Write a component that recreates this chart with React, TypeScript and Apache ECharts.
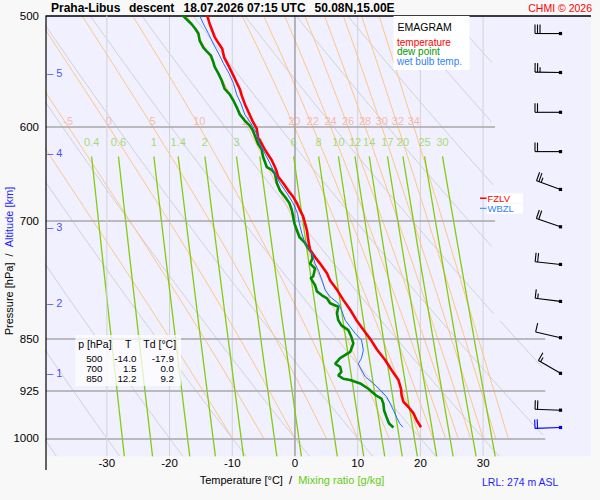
import React, { useEffect, useRef } from "react";
import * as echarts from "echarts";

// ---------- axes ----------
const P_TOP = 500;
const P_BOTTOM = 1030;
const T_LEFT = -39.7;
const T_RIGHT = 47.2;
const DIAG_T_UPPER = 31.9; // right end of the diagram above DIAG_P_STEP
const DIAG_T_LOWER = 39.9; // right end of the diagram below DIAG_P_STEP
const DIAG_P_STEP = 825;
const tempTicks = [-30, -20, -10, 0, 10, 20, 30];
const isotherms = [-30, -20, -10, 0, 10, 20, 30];
const pressureLevelsUpper = [600, 700];
const pressureLevelsLower = [850, 925, 1000];

// ---------- diagram isopleths ----------
const dryThetas = [-40, -30, -20, -10, 0, 10, 20, 30, 40, 50, 60, 70, 80, 90, 100];
const wetThetas = [-10, -5, 0, 5, 10, 15, 20, 22, 24, 26, 28, 30, 32, 34];
const wetLabels = [-5, 0, 5, 10, 15, 20, 22, 24, 26, 28, 30, 32, 34];
const mixRatios = [0.4, 0.6, 1, 1.4, 2, 3, 4, 6, 8, 10, 12, 14, 17, 20, 25, 30];
const MIX_P_START = 630;
const altitudeKm = [1, 2, 3, 4, 5];
const altitudeP = [899, 801, 707, 626, 549];

// ---------- sounding ----------
const tempP = [500, 507, 518, 524, 528, 535.5, 544, 552, 558, 564, 570, 578, 586, 594, 602, 610.5, 617, 623, 634, 641, 646, 651, 658, 666, 673, 680, 688, 695, 703, 711, 722, 734, 743, 751, 763, 772, 784, 797, 810, 824, 837, 851, 865, 880, 894, 909, 922, 932, 942, 950, 960, 971, 982];
const tempT = [-14.0, -13.6, -12.8, -12.1, -11.6, -11.3, -10.5, -9.8, -9.3, -8.8, -8.5, -8.0, -7.4, -6.8, -6.1, -5.9, -5.3, -4.8, -3.7, -3.2, -2.9, -2.7, -1.9, -1.1, -0.3, 0.3, 0.8, 1.3, 1.6, 1.9, 2.1, 2.4, 3.2, 4.0, 5.1, 5.6, 6.7, 7.7, 8.8, 9.8, 10.9, 12.1, 13.1, 14.4, 15.4, 16.5, 16.9, 17.0, 17.3, 18.1, 18.9, 19.4, 20.1];

const dewP = [500, 507, 511, 515, 521, 527, 530, 534, 538.5, 544, 550, 556, 564, 569, 575, 581, 588, 594, 599, 604, 610.5, 617, 623, 630, 641, 644, 648, 658, 666, 673, 680, 688, 695, 703, 711, 719, 726, 732, 738, 744.5, 751, 757, 767, 769, 778, 786, 791, 795, 801.5, 806, 815, 824, 831, 837.5, 847, 856, 868, 877, 885, 889.5, 897, 902, 907, 909, 914, 922, 932, 937, 945, 955, 966, 976, 982.5];
const dewT = [-17.9, -16.5, -15.9, -15.4, -15.2, -14.6, -14.1, -13.4, -13.1, -12.8, -12.2, -11.7, -11.2, -10.4, -9.8, -9.3, -8.8, -8.0, -7.2, -6.7, -6.3, -5.9, -5.3, -5.1, -4.5, -3.7, -3.2, -2.9, -2.4, -1.6, -0.9, -0.5, -0.3, -0.1, 0.3, 0.7, 1.6, 2.1, 2.7, 2.8, 2.4, 3.2, 2.9, 2.5, 3.2, 3.5, 4.3, 5.1, 5.6, 6.9, 6.7, 6.9, 7.4, 8.5, 9.0, 9.3, 8.8, 7.2, 6.4, 7.2, 7.4, 6.9, 7.7, 8.8, 10.4, 11.7, 12.9, 13.8, 14.1, 14.2, 14.6, 15.0, 15.7];

const wetP = [500, 507, 515, 524, 533, 541, 550, 559, 569, 578, 588, 597, 607, 617, 627, 637, 648, 658, 669, 680, 691.5, 703, 715, 726, 738, 751, 761, 771.5, 784, 793, 801.5, 810, 824, 833, 842, 851, 865.5, 877, 885, 894, 904, 914, 924, 934, 945, 955, 966, 976, 982];
const wetT = [-15.2, -14.6, -13.8, -13.0, -12.1, -11.4, -10.5, -9.8, -9.3, -8.6, -8.0, -7.0, -6.1, -5.6, -4.8, -4.0, -3.2, -2.4, -1.3, -0.3, 0.4, 0.7, 1.1, 1.6, 2.7, 3.2, 3.8, 4.3, 4.8, 5.6, 6.9, 7.4, 8.0, 8.8, 9.6, 10.6, 10.9, 10.6, 10.1, 10.6, 11.2, 12.5, 13.6, 14.6, 15.2, 15.7, 16.2, 16.7, 17.2];

const windP = [515, 549, 586, 625, 665, 707, 752, 799, 848, 899, 955, 982.5];
const windDir = [270, 271, 270, 270, 290, 289, 276, 277, 283, 300, 272, 268];
const windSpd = [30, 25, 20, 20, 25, 20, 20, 15, 10, 15, 20, 20];

const FZLV_P = 676;
const WBZL_P = 685;

const tableHead = ["p [hPa]", "T", "Td [°C]"];
const tableP = ["500", "700", "850"];
const tableT = ["-14.0", "1.5", "12.2"];
const tableTd = ["-17.9", "0.0", "9.2"];

const FONT = '"Liberation Sans", Arial, Helvetica, sans-serif';

// ---------- thermodynamics for the diagram furniture ----------
const es = (t: number) => 6.112 * Math.exp((17.67 * t) / (t + 243.5));
function moistSlope(TK: number, p: number) {
  const e = es(TK - 273.15);
  const rs = (0.622 * e) / (p - e);
  const Lv = 2.501e6, Rd = 287.04, cp = 1005.7;
  return (Rd * TK + Lv * rs) / (cp + (Lv * Lv * rs * 0.622) / (Rd * TK * TK));
}
function pseudoAdiabat(thw: number): number[][] {
  const pts: number[][] = [[thw, 1000]];
  let T = thw + 273.15;
  let lnp = Math.log(1000);
  const lnEnd = Math.log(P_TOP);
  while (lnp > lnEnd + 1e-9) {
    const h = Math.max(-0.01, lnEnd - lnp);
    const p = (l: number) => Math.exp(l);
    const k1 = moistSlope(T, p(lnp));
    const k2 = moistSlope(T + 0.5 * h * k1, p(lnp + 0.5 * h));
    const k3 = moistSlope(T + 0.5 * h * k2, p(lnp + 0.5 * h));
    const k4 = moistSlope(T + h * k3, p(lnp + h));
    T += (h * (k1 + 2 * k2 + 2 * k3 + k4)) / 6;
    lnp += h;
    pts.push([T - 273.15, Math.exp(lnp)]);
  }
  return pts;
}
function tAt(pts: number[][], p: number) {
  for (let i = 1; i < pts.length; i++) {
    const a = pts[i - 1], b = pts[i];
    if ((a[1] - p) * (b[1] - p) <= 0) {
      const f = (Math.log(p) - Math.log(a[1])) / (Math.log(b[1]) - Math.log(a[1]));
      return a[0] + f * (b[0] - a[0]);
    }
  }
  return pts[pts.length - 1][0];
}
const mixT = (w: number, p: number) => {
  const e = (w * p) / (622 + w);
  const l = Math.log(e / 6.112);
  return (243.5 * l) / (17.67 - l);
};
const dryT = (th: number, p: number) => (th + 273.15) * Math.pow(p / 1000, 0.2857) - 273.15;

const zip = (ps: number[], ts: number[]) => ps.map((p, i) => [ts[i], p]);

function lineSeries(data: number[][], color: string, width: number, z: number, extra: any = {}) {
  return {
    type: "line",
    data,
    showSymbol: false,
    symbol: "none",
    silent: true,
    animation: false,
    clip: true,
    lineStyle: { color, width },
    z,
    ...extra,
  };
}

function buildOption() {
  const series: any[] = [];

  // isotherms (with pressure-level grid lines as markLines)
  isotherms.forEach((t, i) => {
    const s: any = lineSeries(
      [[t, P_TOP], [t, P_BOTTOM]],
      t === 0 ? "#8c8c8c" : "#d2d2d6",
      t === 0 ? 1.2 : 1,
      t === 0 ? 4 : 1
    );
    if (i === 0) {
      const item = (p: number, tEnd: number, color: string, w: number) => [
        { coord: [T_LEFT, p], name: String(p), lineStyle: { color, width: w, type: "solid" } },
        { coord: [tEnd, p] },
      ];
      s.markLine = {
        silent: true,
        animation: false,
        symbol: ["none", "none"],
        label: {
          show: true,
          position: "start",
          formatter: "{b}",
          color: "#000",
          fontSize: 11.5,
          fontFamily: FONT,
          distance: 7,
        },
        data: [
          item(P_TOP, T_RIGHT, "#000", 1.5),
          ...pressureLevelsUpper.map((p) => item(p, DIAG_T_UPPER, "#a8a8a8", 1.5)),
          ...pressureLevelsLower.map((p) => item(p, DIAG_T_LOWER, "#a8a8a8", 1.5)),
        ],
      };
      s.z = 6;
    }
    series.push(s);
  });

  // dry adiabats
  dryThetas.forEach((th) => {
    let seg: number[][] = [];
    const flush = () => {
      if (seg.length > 1) series.push(lineSeries(seg, "#d0d0d6", 1, 2));
      seg = [];
    };
    for (let p = P_TOP; p <= P_BOTTOM; p += 5) {
      const T = dryT(th, p);
      const lim = p < DIAG_P_STEP ? DIAG_T_UPPER : DIAG_T_LOWER;
      if (T <= lim) seg.push([T, p]);
      else flush();
    }
    flush();
  });

  // pseudo-adiabats
  const wetLines: Record<number, number[][]> = {};
  wetThetas.forEach((th) => {
    const pts = pseudoAdiabat(th);
    wetLines[th] = pts;
    series.push(lineSeries(pts, "#ffc585", 1, 3));
  });

  // mixing ratio lines
  mixRatios.forEach((w) => {
    const pts: number[][] = [];
    for (let p = MIX_P_START; p <= P_BOTTOM; p += 10) pts.push([mixT(w, p), p]);
    series.push(lineSeries(pts, "#84cc0a", 1.3, 4));
  });

  // labels of pseudo-adiabats
  series.push({
    type: "scatter",
    silent: true,
    animation: false,
    symbolSize: 0,
    z: 5,
    data: wetLabels.map((th) => ({ value: [tAt(wetLines[th], 600), 594], name: String(th) })),
    label: { show: true, position: "inside", formatter: "{b}", color: "#f7ab95", fontSize: 11, fontFamily: FONT },
  });
  // labels of mixing ratio lines
  series.push({
    type: "scatter",
    silent: true,
    animation: false,
    symbolSize: 0,
    z: 5,
    data: mixRatios.map((w) => ({ value: [mixT(w, MIX_P_START), 615], name: String(w) })),
    label: { show: true, position: "inside", formatter: "{b}", color: "#96d24e", fontSize: 11, fontFamily: FONT },
  });
  // altitude ticks
  series.push({
    type: "scatter",
    silent: true,
    animation: false,
    symbolSize: 0,
    z: 5,
    data: altitudeKm.map((km, i) => ({ value: [T_LEFT, altitudeP[i]], name: String(km) })),
    label: {
      show: true,
      position: "right",
      distance: 1,
      formatter: "\u2013 {b}",
      color: "#1a1aff",
      fontSize: 11,
      fontFamily: FONT,
    },
  });

  // sounding curves
  series.push(lineSeries(zip(tempP, tempT), "#ff0000", 2.6, 12));
  series.push(lineSeries(zip(dewP, dewT), "#008a00", 2.6, 11));
  series.push(lineSeries(zip(wetP, wetT), "#1e6cff", 1, 13));

  // wind barbs
  series.push({
    type: "custom",
    silent: true,
    animation: false,
    clip: false,
    z: 14,
    encode: { x: 3, y: 0 },
    data: windP.map((p, i) => [p, windDir[i], windSpd[i], 0, i === windP.length - 1 ? 1 : 0]),
    renderItem: (params: any, api: any) => {
      const p = api.value(0);
      const dir = api.value(1);
      const spd = api.value(2);
      const surf = api.value(4);
      const color = surf ? "#0000ff" : "#000";
      const y = api.coord([0, p])[1];
      const x0 = params.coordSys.x + params.coordSys.width - 30.5;
      const rad = (dir * Math.PI) / 180;
      const ux = Math.sin(rad), uy = -Math.cos(rad);
      const fx = -uy, fy = ux;
      const L = 25.5;
      const children: any[] = [
        { type: "line", shape: { x1: x0, y1: y, x2: x0 + ux * L, y2: y + uy * L }, style: { stroke: color, lineWidth: 1.1 } },
        { type: "rect", shape: { x: x0 - 1.6, y: y - 1.6, width: 3.2, height: 3.2 }, style: { fill: color } },
      ];
      let n10 = Math.floor(spd / 10);
      const n5 = spd % 10 >= 5 ? 1 : 0;
      let k = 0;
      const feather = (len: number) => {
        const d = L - k * 2.5;
        const bx = x0 + ux * d, by = y + uy * d;
        children.push({ type: "line", shape: { x1: bx, y1: by, x2: bx + fx * len, y2: by + fy * len }, style: { stroke: color, lineWidth: 1.1 } });
        k++;
      };
      while (n10-- > 0) feather(9);
      if (n5) feather(5);
      return { type: "group", children };
    },
  });

  return {
    animation: false,
    backgroundColor: "#f8f8f8",
    grid: { left: 46, right: 9, top: 15.5, bottom: 43.7, show: true, backgroundColor: "#f0f0ff", borderWidth: 0 },
    xAxis: {
      type: "value",
      min: T_LEFT,
      max: T_RIGHT,
      axisLine: { show: false },
      axisTick: { show: false },
      splitLine: { show: false },
      axisLabel: { customValues: tempTicks, fontSize: 11.5, color: "#000", fontFamily: FONT, margin: 1 },
    },
    yAxis: {
      type: "log",
      logBase: 10,
      min: P_TOP,
      max: P_BOTTOM,
      inverse: true,
      axisLine: { show: false },
      axisTick: { show: false },
      splitLine: { show: false },
      axisLabel: { show: false },
    },
    series,
  };
}

function textEl(text: string, x: number, y: number, fill: string, size: number, align = "left", bold = false, extra: any = {}) {
  return {
    type: "text",
    z: 100,
    silent: true,
    style: {
      text,
      x,
      y,
      fill,
      font: `${bold ? "bold " : ""}${size}px ${FONT}`,
      textAlign: align,
      verticalAlign: "middle",
    },
    ...extra,
  };
}

export default function App() {
  const ref = useRef<HTMLDivElement>(null);
  useEffect(() => {
    document.body.style.margin = "0";
    if (!ref.current) return;
    const chart = echarts.init(ref.current, undefined, { renderer: "svg" });
    chart.setOption(buildOption() as any);

    const yOf = (p: number) => (chart.convertToPixel({ gridIndex: 0 } as any, [0, p]) as number[])[1];
    const yF = yOf(FZLV_P) - 1.2;
    const yW = yOf(WBZL_P) + 0.8;

    const graphics: any[] = [
      // left axis line
      { type: "line", z: 90, silent: true, shape: { x1: 46, y1: 15.5, x2: 46, y2: 470 }, style: { stroke: "#000", lineWidth: 1.2 } },
      // title
      textEl("Praha-Libus", 51, 7.5, "#000", 12, "left", true),
      textEl("descent", 129, 7.5, "#000", 12, "left", true),
      textEl("18.07.2026 07:15 UTC", 183.5, 7.5, "#000", 12, "left", true),
      textEl("50.08N,15.00E", 314.5, 7.5, "#000", 12, "left", true),
      textEl("CHMI © 2026", 592, 7.5, "#ff0000", 10.5, "right"),
      // legend box
      { type: "rect", z: 95, silent: true, shape: { x: 393.5, y: 16, width: 76, height: 54 }, style: { fill: "#ffffff" } },
      textEl("EMAGRAM", 397.5, 26.5, "#000", 10.5),
      textEl("temperature", 397, 42.3, "#ff0000", 10),
      textEl("dew point", 397, 51.8, "#009a00", 10),
      textEl("wet bulb temp.", 397, 61.7, "#2f7fff", 10),
      // freezing levels
      { type: "rect", z: 95, silent: true, shape: { x: 487, y: yF - 5, width: 36, height: 10 }, style: { fill: "#ffffff" } },
      { type: "line", z: 96, silent: true, shape: { x1: 480, y1: yF, x2: 486.5, y2: yF }, style: { stroke: "#ff0000", lineWidth: 1.5 } },
      textEl("FZLV", 487.5, yF, "#ff0000", 9.5),
      { type: "rect", z: 101, silent: true, shape: { x: 487, y: yW - 4.5, width: 36, height: 10 }, style: { fill: "#ffffff", opacity: 0.95 } },
      { type: "line", z: 102, silent: true, shape: { x1: 480, y1: yW, x2: 486.5, y2: yW }, style: { stroke: "#2f7fff", lineWidth: 1 } },
      { ...textEl("WBZL", 487.5, yW, "#2f7fff", 9.5), z: 103 },
      // table
      { type: "rect", z: 95, silent: true, shape: { x: 75.3, y: 335, width: 105.7, height: 51 }, style: { fill: "#ffffff", opacity: 0.75 } },
      textEl(tableHead[0], 78.3, 343.5, "#000", 10.5),
      textEl(tableHead[1], 128.3, 343.5, "#000", 10.5, "center"),
      textEl(tableHead[2], 143.3, 343.5, "#000", 10.5),
      ...tableP.flatMap((p, i) => {
        const y = 358.4 + i * 9.8;
        return [
          textEl(p, 102.5, y, "#000", 9.8, "right"),
          textEl(tableT[i], 136.5, y, "#000", 9.8, "right"),
          textEl(tableTd[i], 174, y, "#000", 9.8, "right"),
        ];
      }),
      // axis titles
      {
        type: "text",
        z: 100,
        silent: true,
        x: 8.5,
        y: 261,
        rotation: Math.PI / 2,
        style: {
          text: "{a|Pressure [hPa]}  /  {b|Altitude [km]}",
          x: 0,
          y: 0,
          font: `11px ${FONT}`,
          fill: "#000",
          textAlign: "center",
          verticalAlign: "middle",
          rich: { a: { fill: "#000", font: `11px ${FONT}` }, b: { fill: "#1f1fff", font: `11px ${FONT}` } },
        },
      },
      {
        type: "text",
        z: 100,
        silent: true,
        style: {
          text: "{a|Temperature [°C]}  /  {b|Mixing ratio [g/kg]}",
          x: 292,
          y: 479.5,
          font: `11px ${FONT}`,
          fill: "#000",
          textAlign: "center",
          verticalAlign: "middle",
          rich: { a: { fill: "#000", font: `11px ${FONT}` }, b: { fill: "#66cc11", font: `11px ${FONT}` } },
        },
      },
      textEl("LRL: 274 m ASL", 482, 481.5, "#1f1fff", 10.5),
    ];
    chart.setOption({ graphic: graphics } as any);
    return () => chart.dispose();
  }, []);
  return <div ref={ref} style={{ width: 600, height: 500 }} />;
}
